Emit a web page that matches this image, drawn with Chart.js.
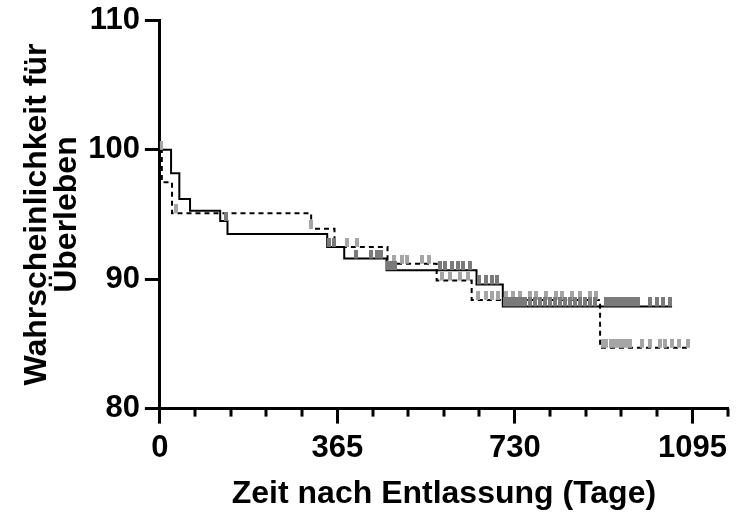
<!DOCTYPE html>
<html>
<head>
<meta charset="utf-8">
<script src="https://cdn.jsdelivr.net/npm/chart.js@4"></script>
<style>
  html, body { margin: 0; padding: 0; background: #fff; }
  #wrap { width: 736px; height: 512px; }
</style>
</head>
<body>
<div id="wrap"><canvas id="chart" width="736" height="512"></canvas></div>
<script>
// Kaplan-Meier steps: day where the level starts, survival level (%)
const solidDays = [0, 23, 40, 62, 124, 139, 344, 379, 466, 651, 705, 1053];
const solidSurv = [100, 98.2, 96.2, 95.3, 94.5, 93.5, 92.5, 91.6, 90.7, 89.6, 87.9, 87.9];
const dashedDays = [0, 4, 25, 311, 359, 468, 569, 641, 905, 1090];
const dashedSurv = [100, 97.5, 95.1, 93.9, 92.5, 91.2, 89.9, 88.4, 84.7, 84.7];

// censored patients (days)
const solidCensor = [136, 348, 357, 404, 435, 447, 455, 470, 476, 484, 575, 587, 600, 612, 624, 637,
  657, 670, 682, 694, 709, 717, 726, 734, 742, 750, 761, 771, 781, 791, 802, 812, 822, 833, 843,
  853, 864, 874, 884, 894, 917, 925, 933, 941, 950, 958, 966, 974, 983, 1007, 1022, 1034, 1048];
const dashedCensor = [2, 34, 311, 384, 406, 482, 497, 509, 538, 554, 581, 596, 616, 633, 653, 670,
  682, 695, 711, 726, 740, 761, 773, 794, 814, 826, 847, 864, 884, 897, 910, 918, 927, 935, 943,
  951, 959, 967, 992, 1007, 1028, 1038, 1052, 1067, 1085];

const xTickLabels = [0, 365, 730, 1095];
const xMinorStep = 73;
const xMax = 1168;

const font = "'Liberation Sans', Arial, sans-serif";

function stepPoints(days, surv) {
  return days.map((d, i) => ({ x: d, y: surv[i] }));
}
function levelAt(days, surv, d) {
  let v = surv[0];
  days.forEach((t, i) => { if (t <= d) v = surv[i]; });
  return v;
}
function censorPoints(list, days, surv) {
  return list.map((d) => ({ x: d, y: levelAt(days, surv, d) }));
}

// censor tick: small vertical bar sitting on top of the line
function tickImage(color) {
  const c = document.createElement("canvas");
  c.width = 4;
  c.height = 18;
  const g = c.getContext("2d");
  g.fillStyle = color;
  g.fillRect(0, 0, 4, 9);
  return c;
}

// minor x ticks (every 73 days)
const minorTicks = {
  id: "minorTicks",
  afterDraw(chart) {
    const xs = chart.scales.x;
    const ctx = chart.ctx;
    const y0 = chart.chartArea.bottom;
    ctx.save();
    ctx.strokeStyle = "#000";
    ctx.lineWidth = 3;
    for (let v = xMinorStep; v <= xMax; v += xMinorStep) {
      if (v % 365 === 0) continue;
      const x = Math.round(xs.getPixelForValue(v));
      ctx.beginPath();
      ctx.moveTo(x, y0);
      ctx.lineTo(x, y0 + 8);
      ctx.stroke();
    }
    ctx.restore();
  },
};

const ctx = document.getElementById("chart").getContext("2d");
new Chart(ctx, {
  type: "scatter",
  data: {
    datasets: [
      {
        data: censorPoints(solidCensor, solidDays, solidSurv),
        pointStyle: tickImage("#7a7a7a"),
        showLine: false,
      },
      {
        data: censorPoints(dashedCensor, dashedDays, dashedSurv),
        pointStyle: tickImage("#a5a5a5"),
        showLine: false,
      },
      {
        data: stepPoints(solidDays, solidSurv),
        showLine: true,
        stepped: "before",
        borderColor: "#000",
        borderWidth: 2,
        pointRadius: 0,
      },
      {
        data: stepPoints(dashedDays, dashedSurv),
        showLine: true,
        stepped: "before",
        borderColor: "#000",
        borderWidth: 2,
        borderDash: [5, 4],
        pointRadius: 0,
      },
    ],
  },
  options: {
    responsive: false,
    animation: false,
    layout: { padding: { top: 20, right: 8, left: 0, bottom: 0 } },
    plugins: { legend: { display: false }, tooltip: { enabled: false } },
    scales: {
      x: {
        type: "linear",
        min: 0,
        max: xMax,
        afterBuildTicks: (scale) => {
          scale.ticks = xTickLabels.map((v) => ({ value: v }));
        },
        border: { color: "#000", width: 3 },
        grid: { drawOnChartArea: false, tickLength: 15, tickWidth: 3, tickColor: "#000" },
        ticks: {
          padding: 6,
          color: "#000",
          maxRotation: 0,
          callback: (v) => String(v),
          font: { family: font, size: 31, weight: "bold" },
        },
        title: {
          display: true,
          text: "Zeit nach Entlassung (Tage)",
          color: "#000",
          padding: { top: 4, bottom: 0 },
          font: { family: font, size: 32, weight: "bold", lineHeight: 1.1 },
        },
      },
      y: {
        min: 80,
        max: 110,
        ticks: {
          stepSize: 10,
          padding: 5,
          color: "#000",
          font: { family: font, size: 31, weight: "bold", lineHeight: 1.0 },
        },
        border: { color: "#000", width: 3 },
        grid: { drawOnChartArea: false, tickLength: 15, tickWidth: 3, tickColor: "#000" },
        title: {
          display: true,
          text: ["Wahrscheinlichkeit für", "Überleben"],
          color: "#000",
          padding: { top: 22, bottom: 1 },
          font: { family: font, size: 32, weight: "bold", lineHeight: 0.94 },
        },
      },
    },
  },
  plugins: [minorTicks],
});
</script>
</body>
</html>
